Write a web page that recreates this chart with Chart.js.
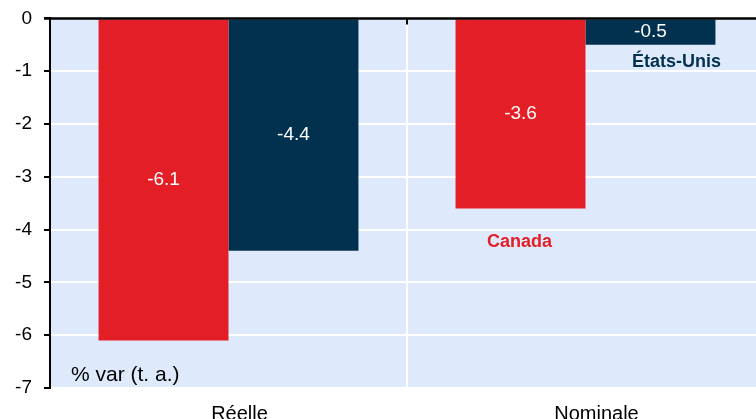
<!DOCTYPE html>
<html>
<head>
<meta charset="utf-8">
<script src="https://cdn.jsdelivr.net/npm/chart.js@4.4.1/dist/chart.umd.min.js"></script>
<style>
  html, body { margin: 0; padding: 0; background: #fff; overflow: hidden; }
  #wrap { width: 756px; height: 419px; overflow: hidden; }
  #box { width: 764px; height: 435px; margin-top: -5px; }
</style>
</head>
<body>
<div id="wrap"><div id="box"><canvas id="myChart"></canvas></div></div>
<script>
var categories = ['Réelle', 'Nominale'];
var canada = [-6.1, -3.6];
var etatsUnis = [-4.4, -0.5];
var yTicks = [0, -1, -2, -3, -4, -5, -6, -7];

var RED = '#e31e26';
var NAVY = '#02304f';
var FONT = '"Liberation Sans", Arial, sans-serif';

// plot background, zero line, value labels and series names
var decor = {
    id: 'decor',
    beforeDraw: function(chart) {
        var a = chart.chartArea, c = chart.ctx;
        c.save();
        c.fillStyle = '#dee9fb';
        c.fillRect(a.left, a.top, a.right - a.left, a.bottom - a.top);
        c.restore();
    },
    afterDatasetsDraw: function(chart) {
        var a = chart.chartArea, c = chart.ctx;
        var y0 = chart.scales.y.getPixelForValue(0);
        c.save();
        c.strokeStyle = '#000';
        c.lineWidth = 2.5;
        c.beginPath();
        c.moveTo(a.left - 6, y0);
        c.lineTo(a.right, y0);
        c.stroke();
        // tick between the two groups
        var xs = chart.scales.x;
        var mid = (xs.getPixelForValue(0) + xs.getPixelForValue(1)) / 2;
        c.lineWidth = 2;
        c.beginPath();
        c.moveTo(mid, y0);
        c.lineTo(mid, y0 + 6);
        c.stroke();

        c.font = '19px ' + FONT;
        c.fillStyle = '#fff';
        c.textAlign = 'center';
        c.textBaseline = 'middle';
        chart.data.datasets.forEach(function(ds, i) {
            chart.getDatasetMeta(i).data.forEach(function(bar, j) {
                var v = ds.data[j];
                c.fillText(v.toFixed(1), bar.x, (bar.y + bar.base) / 2);
            });
        });

        c.font = 'bold 18px ' + FONT;
        var redBar = chart.getDatasetMeta(0).data[1];
        c.fillStyle = RED;
        c.fillText('Canada', redBar.x - 1, redBar.y + 34);
        var navyBar = chart.getDatasetMeta(1).data[1];
        c.fillStyle = NAVY;
        c.fillText('États-Unis', navyBar.x + 26, navyBar.y + 17);

        c.font = '21px ' + FONT;
        c.fillStyle = '#000';
        c.textAlign = 'left';
        c.textBaseline = 'alphabetic';
        c.fillText('% var (t. a.)', a.left + 21, a.bottom - 7);
        c.restore();
    }
};

var ctx = document.getElementById('myChart').getContext('2d');

var chart = new Chart(ctx, {
    type: 'bar',
    data: {
        labels: categories,
        datasets: [{
            label: 'Canada',
            backgroundColor: RED,
            data: canada
        }, {
            label: 'États-Unis',
            backgroundColor: NAVY,
            data: etatsUnis
        }]
    },
    options: {
        responsive: true,
        maintainAspectRatio: false,
        animation: false,
        categoryPercentage: 0.728,
        barPercentage: 1,
        layout: { padding: { top: 14, right: 0, left: 0, bottom: 0 } },
        plugins: {
            legend: { display: false },
            tooltip: { enabled: false }
        },
        scales: {
            x: {
                afterFit: function(s) { s.height = 42; },
                border: { display: false },
                grid: { offset: true, color: '#fff', lineWidth: 2, drawTicks: false },
                ticks: {
                    color: '#000',
                    padding: 14,
                    labelOffset: 11,
                    maxRotation: 0,
                    font: { family: FONT, size: 20 }
                }
            },
            y: {
                min: -7,
                max: 0,
                afterFit: function(s) { s.width = 50; },
                afterBuildTicks: function(s) {
                    s.ticks = yTicks.map(function(v) { return { value: v }; });
                },
                border: { display: true, color: '#000', width: 2 },
                grid: { color: '#fff', lineWidth: 2, tickColor: '#000', tickLength: 6, tickWidth: 2 },
                ticks: {
                    color: '#000',
                    padding: 12,
                    font: { family: FONT, size: 19 }
                }
            }
        }
    },
    plugins: [decor]
});
</script>
</body>
</html>
